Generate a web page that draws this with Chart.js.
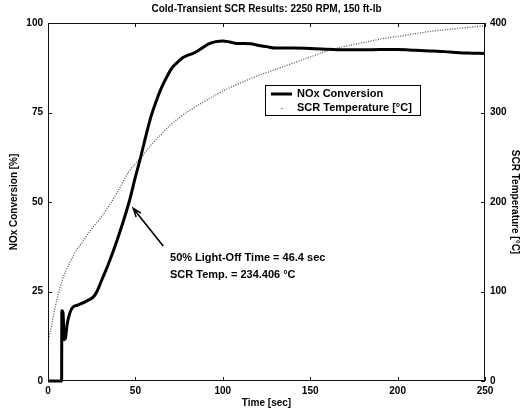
<!DOCTYPE html>
<html>
<head>
<meta charset="utf-8">
<title>Cold-Transient SCR Results</title>
<script src="https://cdn.jsdelivr.net/npm/chart.js@4.4.1/dist/chart.umd.min.js"></script>
<style>
html, body { margin: 0; padding: 0; background: #fff; }
#scr_chart { display: block; }
</style>
</head>
<body>
<canvas id="scr_chart" width="526" height="410"></canvas>
<script>
"use strict";
// NOx conversion [%] vs time [sec]
var noxTime = [0, 7.8, 7.9, 8.6, 9.3, 10, 11, 12.5, 14, 17, 20, 23, 26, 28, 31, 34, 37, 40, 43, 46.4, 50, 53, 56, 59, 62, 65, 68, 71, 74, 77, 80, 83, 86, 89, 92, 96, 100, 104, 108, 112, 116, 120, 125, 130, 140, 150, 160, 170, 180, 190, 200, 210, 220, 230, 240, 250];
var noxConv = [0, 0, 19.6, 19, 11.5, 12, 16, 19, 20.5, 21.2, 21.8, 22.6, 23.5, 25, 28.5, 32, 35.8, 40, 44.5, 50, 57, 62.5, 68.5, 74, 78.3, 82, 85, 87.5, 89, 90.3, 91, 91.5, 92.3, 93.3, 94.2, 94.8, 95, 94.7, 94.3, 94.3, 94.2, 93.8, 93.4, 93, 93, 92.9, 92.7, 92.5, 92.5, 92.6, 92.6, 92.4, 92.2, 91.9, 91.6, 91.5];
// SCR temperature [°C] vs time [sec]
var tempTime = [0, 2, 4, 6, 8, 10, 12, 15, 20, 25, 30, 35, 40, 46.4, 50, 55, 60, 65, 70, 75, 80, 90, 100, 110, 120, 130, 140, 150, 160, 170, 180, 190, 200, 210, 220, 230, 240, 250];
var tempC = [44, 62, 82, 98, 112, 122, 130, 142, 156, 170, 182, 196, 212, 234.4, 243, 254, 266, 276, 286, 294, 301, 313, 324, 333, 341, 348, 355, 362, 369, 374, 378, 382, 385, 388, 391, 393, 395, 397];
var timeTicks = [0, 50, 100, 150, 200, 250];
var noxTicks = [0, 25, 50, 75, 100];
var tempTicks = [0, 100, 200, 300, 400];
var lightOffTime = 46.4, lightOffTemp = 234.406;

var FONT = "'Liberation Sans', Arial, sans-serif";

function pts(xs, ys) {
    return xs.map(function(x, i) { return { x: x, y: ys[i] }; });
}

function fixTicks(list) {
    return function(s) { s.ticks = list.map(function(v) { return { value: v }; }); };
}

// box, inward tick marks and the title
var framePlugin = {
    id: "frame",
    afterDatasetsDraw: function(chart) {
        var c = chart.ctx, a = chart.chartArea,
            sx = chart.scales.x, sy = chart.scales.y, sy2 = chart.scales.y2, L = 4;
        c.save();
        c.strokeStyle = "#111";
        c.lineWidth = 1;
        c.strokeRect(Math.round(a.left) + .5, Math.round(a.top) + .5, Math.round(a.right - a.left) - 1, Math.round(a.bottom - a.top) - 1);
        c.beginPath();
        timeTicks.forEach(function(v) {
            var px = Math.round(sx.getPixelForValue(v)) + .5;
            c.moveTo(px, a.bottom); c.lineTo(px, a.bottom - L);
            c.moveTo(px, a.top); c.lineTo(px, a.top + L);
        });
        noxTicks.forEach(function(v) {
            var py = Math.round(sy.getPixelForValue(v)) + .5;
            c.moveTo(a.left, py); c.lineTo(a.left + L, py);
        });
        tempTicks.forEach(function(v) {
            var py = Math.round(sy2.getPixelForValue(v)) + .5;
            c.moveTo(a.right, py); c.lineTo(a.right - L, py);
        });
        c.stroke();

        c.fillStyle = "#000";
        c.font = "bold 10px " + FONT;
        c.textAlign = "center";
        c.textBaseline = "middle";
        c.fillText("Cold-Transient SCR Results: 2250 RPM, 150 ft-lb", (a.left + a.right) / 2, 9);
        c.restore();
    }
};

// legend box inside the plot
var legendPlugin = {
    id: "boxLegend",
    afterDraw: function(chart) {
        var c = chart.ctx, ds = chart.data.datasets;
        var bx = 265, by = 85, bw = 155, bh = 30;
        c.save();
        c.fillStyle = "#fff";
        c.fillRect(bx, by, bw, bh);
        c.strokeStyle = "#000";
        c.lineWidth = 1;
        c.strokeRect(bx + .5, by + .5, bw, bh);
        c.strokeStyle = ds[0].borderColor;
        c.lineWidth = ds[0].borderWidth;
        c.beginPath(); c.moveTo(bx + 6, by + 9); c.lineTo(bx + 27, by + 9); c.stroke();
        c.fillStyle = "#888";
        c.fillRect(bx + 16, by + 23, 2, 1);
        c.fillStyle = "#000";
        c.font = "bold 11px " + FONT;
        c.textAlign = "left";
        c.textBaseline = "middle";
        c.fillText(ds[0].label, bx + 32, by + 9);
        c.fillText(ds[1].label, bx + 32, by + 23);
        c.restore();
    }
};

// light-off arrow and note
var notePlugin = {
    id: "lightOff",
    afterDraw: function(chart) {
        var c = chart.ctx, sx = chart.scales.x, sy = chart.scales.y;
        var tx = sx.getPixelForValue(48.8), ty = sy.getPixelForValue(48.2);
        var fx = sx.getPixelForValue(65.9), fy = sy.getPixelForValue(37.7);
        var ang = Math.atan2(ty - fy, tx - fx), h = 9;
        c.save();
        c.strokeStyle = "#000";
        c.lineWidth = 1.6;
        c.beginPath();
        c.moveTo(fx, fy); c.lineTo(tx, ty);
        c.moveTo(tx - h * Math.cos(ang - .35), ty - h * Math.sin(ang - .35));
        c.lineTo(tx, ty);
        c.lineTo(tx - h * Math.cos(ang + .35), ty - h * Math.sin(ang + .35));
        c.stroke();
        c.fillStyle = "#000";
        c.font = "bold 11px " + FONT;
        c.textAlign = "left";
        c.textBaseline = "middle";
        var lx = sx.getPixelForValue(69.8);
        c.fillText("50% Light-Off Time = " + lightOffTime + " sec", lx, sy.getPixelForValue(34.4));
        c.fillText("SCR Temp. = " + lightOffTemp + " \u00B0C", lx, sy.getPixelForValue(29.6));
        c.restore();
    }
};

var tickFont = { family: FONT, size: 10, weight: "bold" };

new Chart(document.getElementById("scr_chart"), {
    type: "line",
    data: {
        datasets: [{
            label: "NOx Conversion",
            data: pts(noxTime, noxConv),
            yAxisID: "y",
            borderColor: "#000",
            borderWidth: 3,
            pointRadius: 0,
            cubicInterpolationMode: "monotone",
            clip: false
        }, {
            label: "SCR Temperature [\u00B0C]",
            data: pts(tempTime, tempC),
            yAxisID: "y2",
            borderColor: "#555",
            borderWidth: 1.3,
            borderDash: [1, 1.5],
            pointRadius: 0,
            cubicInterpolationMode: "monotone"
        }]
    },
    options: {
        responsive: !1,
        animation: !1,
        events: [],
        layout: { padding: { top: 23, left: 0, right: 0, bottom: 0 } },
        plugins: {
            legend: { display: !1 },
            title: { display: !1 },
            tooltip: { enabled: !1 }
        },
        scales: {
            x: {
                type: "linear",
                min: 0,
                max: 250,
                afterBuildTicks: fixTicks(timeTicks),
                afterFit: function(s) { s.height = 29; },
                grid: { display: !1, drawTicks: !1 },
                border: { display: !1 },
                ticks: { font: tickFont, color: "#000", padding: 4, maxRotation: 0 },
                title: { display: !0, text: "Time [sec]", font: tickFont, color: "#000", padding: { top: 0, bottom: 1 } }
            },
            y: {
                position: "left",
                min: 0,
                max: 100,
                afterBuildTicks: fixTicks(noxTicks),
                afterFit: function(s) { s.width = 48; },
                grid: { display: !1, drawTicks: !1 },
                border: { display: !1 },
                ticks: { font: tickFont, color: "#000", padding: 5 },
                title: { display: !0, text: "NOx Conversion [%]", font: tickFont, color: "#000", padding: { top: 8, bottom: 0 } }
            },
            y2: {
                position: "right",
                min: 0,
                max: 400,
                afterBuildTicks: fixTicks(tempTicks),
                afterFit: function(s) { s.width = 41; },
                grid: { display: !1, drawTicks: !1 },
                border: { display: !1 },
                ticks: { font: tickFont, color: "#000", padding: 5 },
                title: { display: !0, text: "SCR Temperature [\u00B0C]", font: tickFont, color: "#000", padding: { top: 5, bottom: 0 } }
            }
        }
    },
    plugins: [framePlugin, legendPlugin, notePlugin]
});
</script>
</body>
</html>
